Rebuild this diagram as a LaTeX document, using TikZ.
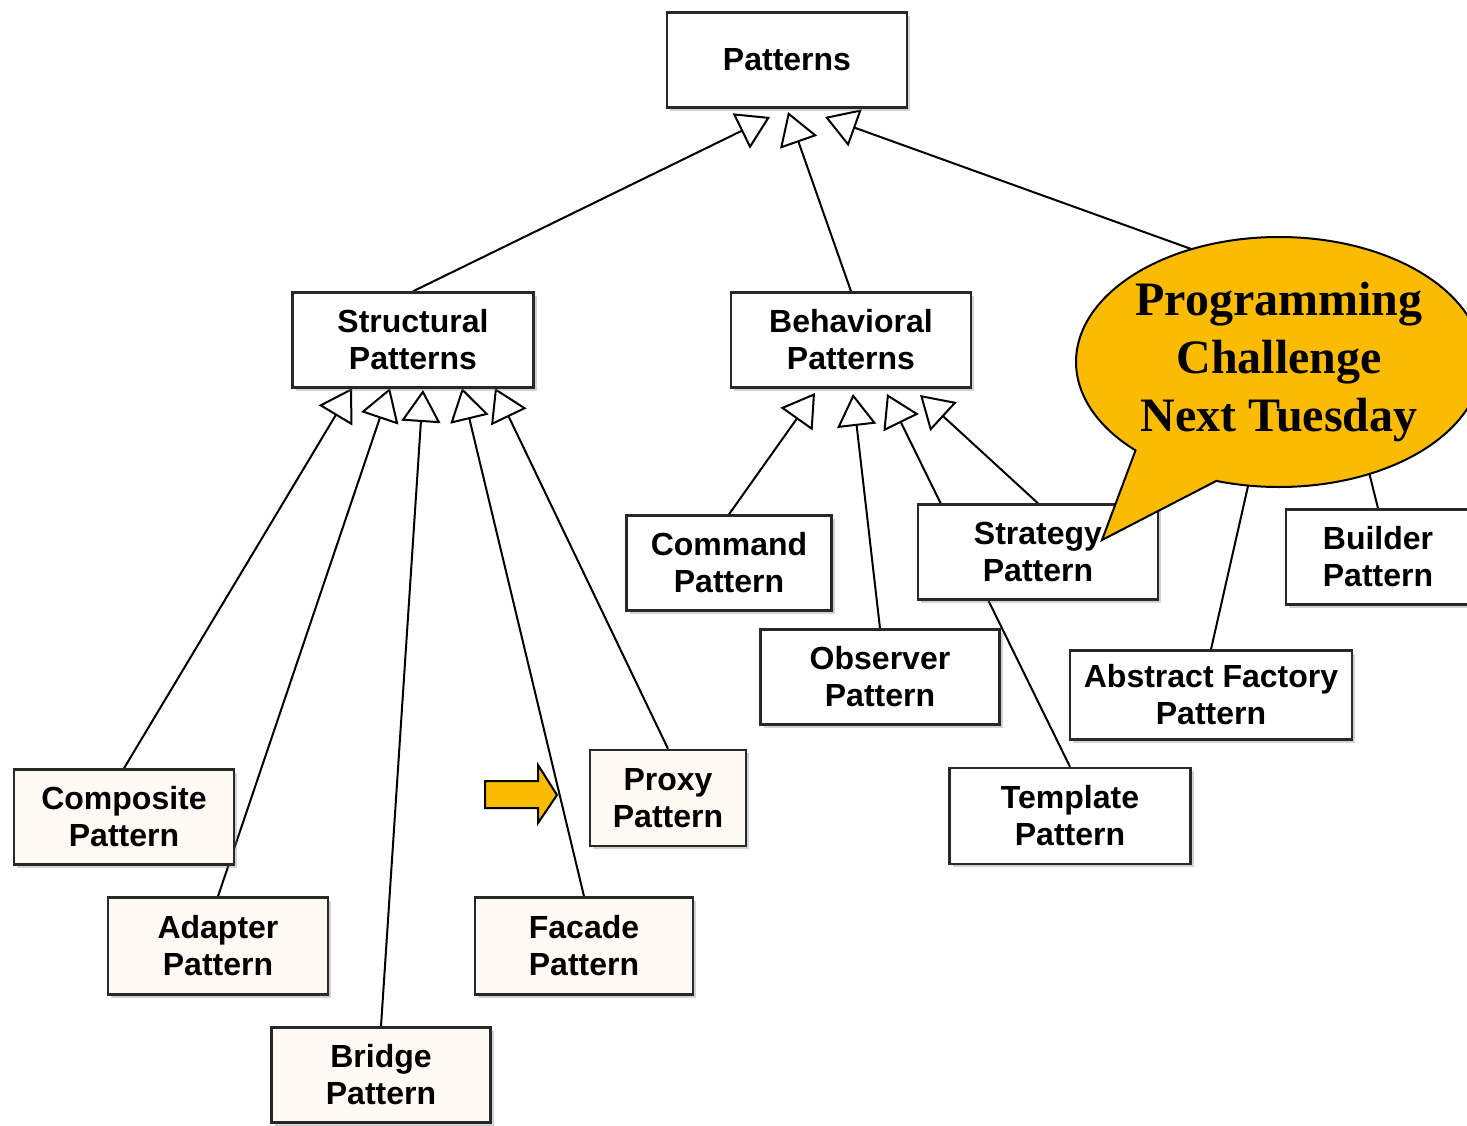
\documentclass[tikz,border=0pt]{standalone}
\usepackage{fontspec}
\setmainfont{Liberation Sans}
\newfontfamily\calloutfont{Liberation Serif}
\usetikzlibrary{arrows.meta,shapes.callouts,shadows}
\pgfdeclarelayer{bg}
\pgfsetlayers{bg,main}
\definecolor{cream}{RGB}{255,251,244}
\definecolor{callyellow}{RGB}{251,187,0}
\definecolor{boxline}{RGB}{40,40,40}

\begin{document}
\begin{tikzpicture}[
  x=0.5pt, y=-0.5pt,
  every node/.style={font=\fontsize{16}{18.5}\selectfont\bfseries},
  box/.style={draw=boxline, line width=1.2pt, fill=white, align=center,
    inner sep=0pt, minimum height=47.5pt,
    drop shadow={shadow xshift=1.5pt, shadow yshift=-1.5pt, opacity=0.35}},
  cbox/.style={box, fill=cream},
  inherit/.style={line width=1pt, -{Triangle[open, length=16pt, width=19.5pt]}},
  link/.style={line width=1pt}
]
  \useasboundingbox (0,0) rectangle (1467,1125);

  % top levels
  \node[box, minimum width=120pt] (patterns) at (787,60) {Patterns};
  \node[box, minimum width=120.5pt] (structural) at (413,340) {Structural\\Patterns};
  \node[box, minimum width=120pt] (behavioral) at (851,340) {Behavioral\\Patterns};

  % behavioral
  \node[box, minimum width=102.5pt] (command) at (729,563) {Command\\Pattern};
  \node[box, minimum width=119.5pt] (observer) at (880,677) {Observer\\Pattern};
  \node[box, minimum width=120pt] (strategy) at (1038,552) {Strategy\\Pattern};
  \node[box, minimum width=120.5pt, minimum height=48pt] (template) at (1070,816) {Template\\Pattern};

  % creational
  \node[box, minimum width=141pt, minimum height=44.5pt] (absfactory) at (1211,695) {Abstract Factory\\Pattern};
  \node[box, minimum width=92pt] (builder) at (1378,557) {Builder\\Pattern};

  % structural
  \node[cbox, minimum width=110pt] (composite) at (124,817) {Composite\\Pattern};
  \node[cbox, minimum width=110pt, minimum height=48.5pt] (adapter) at (218,946) {Adapter\\Pattern};
  \node[cbox, minimum width=109.5pt] (bridge) at (381,1075) {Bridge\\Pattern};
  \node[cbox, minimum width=109pt, minimum height=48.5pt] (facade) at (584,946) {Facade\\Pattern};
  \node[cbox, minimum width=78pt, minimum height=48pt] (proxy) at (668,798) {Proxy\\Pattern};

  % arrow tips
  \coordinate (p1) at (770,117);
  \coordinate (p2) at (788,112);
  \coordinate (p3) at (825,117);
  \coordinate (s1) at (352,388);
  \coordinate (s2) at (390,388);
  \coordinate (s3) at (423,390);
  \coordinate (s4) at (462,388);
  \coordinate (s5) at (495,388);
  \coordinate (b1) at (815,393);
  \coordinate (b2) at (853,394);
  \coordinate (b3) at (887,394);
  \coordinate (b4) at (920,395);
  % hidden under the bubble
  \coordinate (creational) at (1280,281);
  \coordinate (cr1) at (1263,420);
  \coordinate (cr2) at (1356,420);

  \begin{pgfonlayer}{bg}
    \fill[white] (0,0) rectangle (1467,1125);
    \draw[inherit] (structural.north) -- (p1);
    \draw[inherit] (behavioral.north) -- (p2);
    \draw[inherit] (creational) -- (p3);
    \draw[inherit] (composite.north) -- (s1);
    \draw[inherit] (adapter.north) -- (s2);
    \draw[inherit] (bridge.north) -- (s3);
    \draw[inherit] (facade.north) -- (s4);
    \draw[inherit] (proxy.north) -- (s5);
    \draw[inherit] (command.north) -- (b1);
    \draw[inherit] (observer.north) -- (b2);
    \draw[inherit] (template.north) -- (b3);
    \draw[inherit] (strategy.north) -- (b4);
    \draw[link] (absfactory.north) -- (cr1);
    \draw[link] (builder.north) -- (cr2);
  \end{pgfonlayer}

  % pointer arrow
  \draw[fill=callyellow, line width=1pt, line join=miter]
    (485,781) -- (538,781) -- (538,765) -- (557,795) -- (538,823)
    -- (538,808) -- (485,808) -- cycle;

  \node[ellipse callout, draw=black, fill=callyellow, line width=1pt,
    minimum width=192pt, minimum height=125pt, inner sep=0pt,
    callout absolute pointer={(1102,540)}, callout pointer arc=27,
    align=center, font=\calloutfont\bfseries\fontsize{24}{29}\selectfont]
    (bubble) at (1279,362) {Programming\\Challenge\\Next Tuesday};
\end{tikzpicture}
\end{document}
